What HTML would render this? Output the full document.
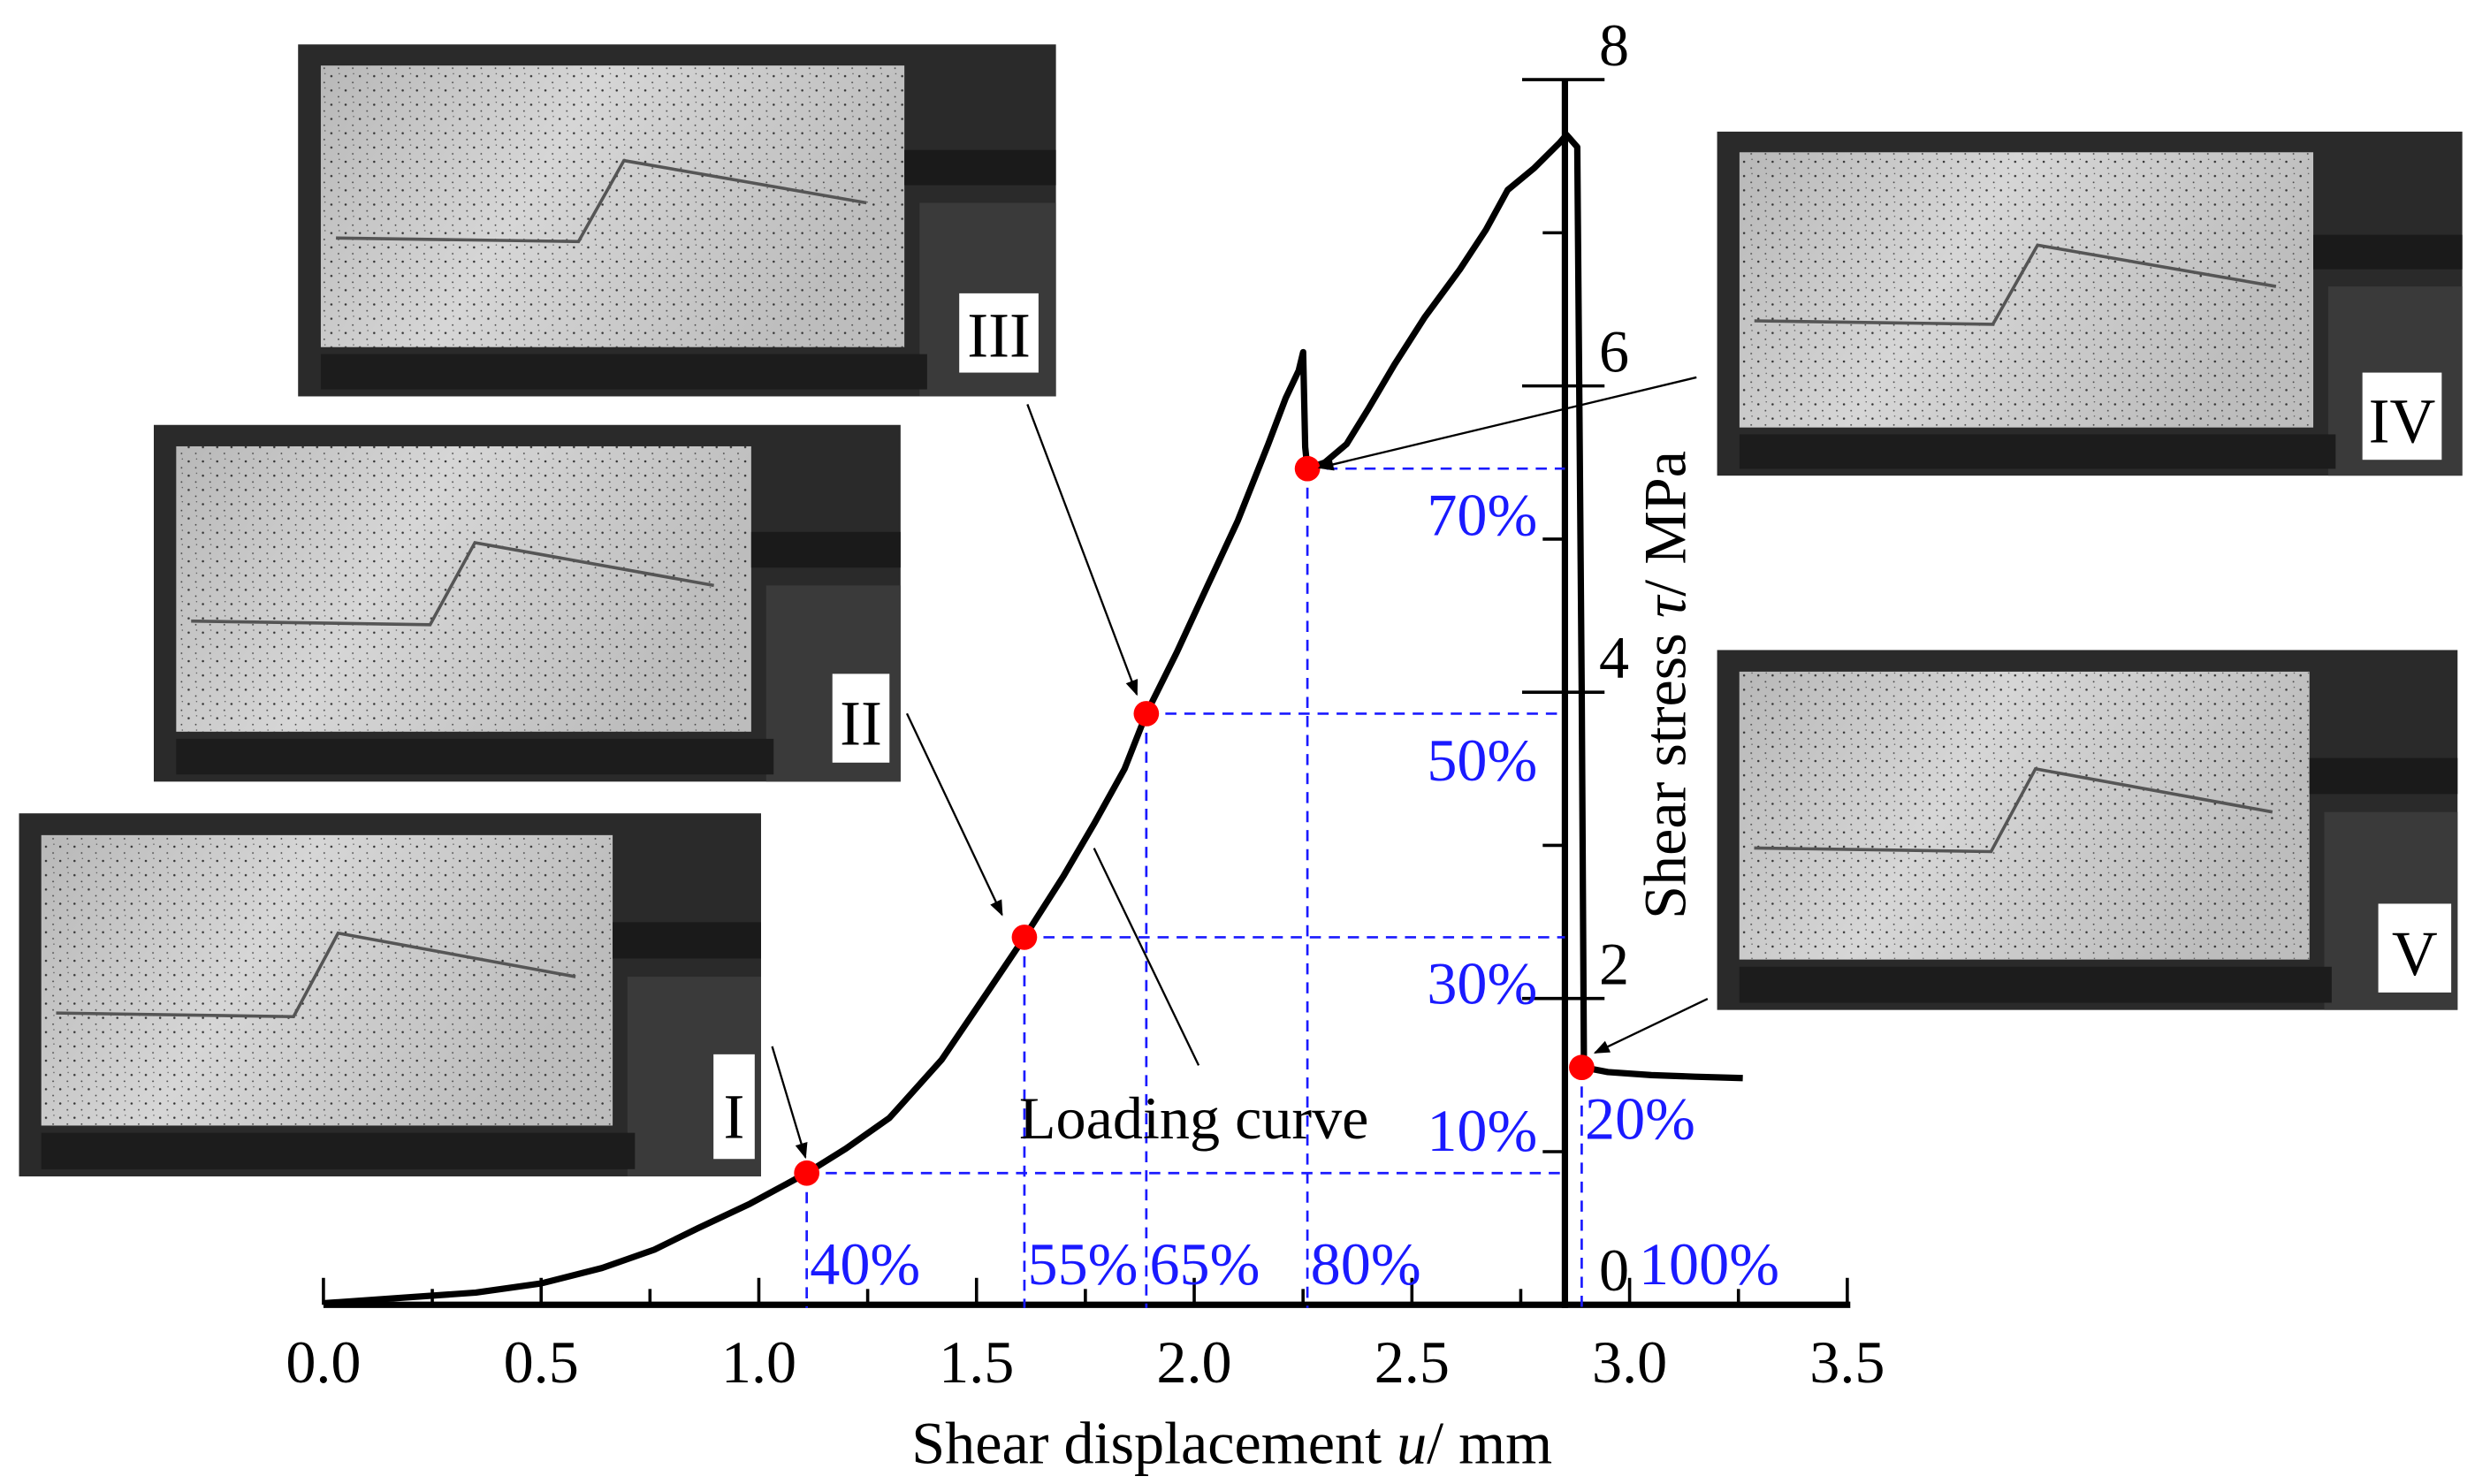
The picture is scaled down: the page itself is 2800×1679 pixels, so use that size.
<!DOCTYPE html>
<html><head><meta charset="utf-8"><style>
html,body{margin:0;padding:0;background:#fff;}
svg{display:block;}
text{font-family:"Liberation Serif",serif;}
</style></head><body>
<svg id="chart" width="2800" height="1679" viewBox="0 0 1561 936" xmlns="http://www.w3.org/2000/svg">
<defs>
<linearGradient id="conc" x1="0" y1="0" x2="1" y2="0.3">
<stop offset="0" stop-color="#b8b8b8"/><stop offset="0.45" stop-color="#d6d6d6"/><stop offset="1" stop-color="#bdbdbd"/>
</linearGradient>
<pattern id="dots" width="9" height="9" patternUnits="userSpaceOnUse">
<circle cx="2" cy="3" r="0.7" fill="#333"/><circle cx="6.5" cy="7" r="0.5" fill="#444"/><circle cx="7" cy="1.5" r="0.4" fill="#555"/>
</pattern>
<marker id="arr" markerWidth="10" markerHeight="8" refX="9" refY="4" orient="auto" markerUnits="userSpaceOnUse"><path d="M0,0 L10,4 L0,8 z" fill="#000"/></marker>
</defs>
<g id="photos"></g>
<g id="axes"></g>
<g id="guides"></g>
<g id="series"></g>
<g id="labels"></g>
</svg>
<script>
const uVals=[0,0.15,0.35,0.5,0.64,0.76,0.86,0.98,1.11,1.2,1.3,1.42,1.52,1.61,1.7,1.77,1.84,1.89,1.96,2.03,2.1,2.17,2.21,2.24,2.25,2.255,2.26,2.3,2.35,2.4,2.46,2.53,2.61,2.67,2.72,2.78,2.84,2.855,2.88,2.89,2.895,2.95,3.05,3.15,3.26];
const tauVals=[0.01,0.04,0.08,0.14,0.24,0.36,0.5,0.66,0.86,1.02,1.22,1.6,2.02,2.4,2.8,3.14,3.5,3.86,4.26,4.69,5.12,5.62,5.92,6.1,6.22,5.6,5.46,5.5,5.62,5.85,6.14,6.45,6.76,7.02,7.28,7.42,7.59,7.64,7.56,4.0,1.55,1.52,1.5,1.49,1.48];
const ptU=[1.11,1.61,1.89,2.26,2.89];
const ptTau=[0.86,2.4,3.86,5.46,1.55];
const xPctLabels=["40%","55%","65%","80%","100%"];
const yPctLabels=["10%","30%","50%","70%","20%"];
const xTicks=[0,0.5,1,1.5,2,2.5,3,3.5];
const yTicks=[0,2,4,6,8];
const NS="http://www.w3.org/2000/svg";
const xs=u=>204+u*274.6, ys=t=>823-t*96.6, YAX=987;
function mk(tag,attrs,parent,txt){const e=document.createElementNS(NS,tag);for(const k in attrs)e.setAttribute(k,attrs[k]);if(txt!==undefined)e.textContent=txt;parent.appendChild(e);return e;}
const P=document.getElementById('photos'),A=document.getElementById('axes'),G=document.getElementById('guides'),S=document.getElementById('series'),L=document.getElementById('labels');
const photos=[[12,513,468,229,"I",450,665,26,66],[97,268,471,225,"II",525,425,36,56],[188,28,478,222,"III",605,185,50,50],[1083,83,470,217,"IV",1490,235,50,55],[1083,410,467,227,"V",1500,570,46,56]];
photos.forEach((p,i)=>{const [x,y,w,h,lab,bx,by,bw,bh]=p;
const g=mk('g',{},P);


mk('rect',{x:x,y:y,width:w,height:h,fill:'#2a2a2a'},g);
mk('rect',{x:x+w*0.03,y:y+h*0.06,width:w*0.77,height:h*0.8,fill:'url(#conc)'},g);
mk('rect',{x:x+w*0.03,y:y+h*0.06,width:w*0.77,height:h*0.8,fill:'url(#dots)'},g);
mk('rect',{x:x+w*0.8,y:y+h*0.3,width:w*0.2,height:h*0.1,fill:'#1a1a1a'},g);
mk('rect',{x:x+w*0.82,y:y+h*0.45,width:w*0.18,height:h*0.55,fill:'#3a3a3a'},g);
mk('rect',{x:x+w*0.03,y:y+h*0.88,width:w*0.8,height:h*0.1,fill:'#1c1c1c'},g);
mk('path',{d:`M${x+w*0.05},${y+h*0.55} L${x+w*0.37},${y+h*0.56} L${x+w*0.43},${y+h*0.33} L${x+w*0.75},${y+h*0.45}`,stroke:'#555',fill:'none','stroke-width':2},g);
mk('rect',{x:bx,y:by,width:bw,height:bh,fill:'#fff'},g);
const t=mk('text',{x:bx+bw/2,y:by+bh*0.8,'font-size':40,'text-anchor':'middle'},g,lab);


});
const xa=mk('line',{x1:204,y1:823,x2:1167,y2:823,stroke:'#000','stroke-width':4},A);


for(let k=0;k<=14;k++){const u=k*0.25;mk('line',{x1:xs(u),y1:823,x2:xs(u),y2:823-(k%2?10:17),stroke:'#000','stroke-width':2},A);}
xTicks.forEach(v=>{const t=mk('text',{x:xs(v),y:872,'font-size':38,'text-anchor':'middle'},A,v.toFixed(1));

});
const ya=mk('line',{x1:YAX,y1:825,x2:YAX,y2:50,stroke:'#000','stroke-width':4},A);


for(let k=0;k<=8;k++){if(k%2==0){mk('line',{x1:YAX-27,y1:ys(k),x2:YAX+25,y2:ys(k),stroke:'#000','stroke-width':2},A);}else{mk('line',{x1:YAX-14,y1:ys(k),x2:YAX,y2:ys(k),stroke:'#000','stroke-width':2},A);}}
yTicks.forEach(v=>{const t=mk('text',{x:1018,y:ys(v)-9,'font-size':38,'text-anchor':'middle'},A,String(v));

});
let t1=mk('text',{x:777,y:923,'font-size':38,'text-anchor':'middle'},A);
t1.innerHTML='Shear displacement <tspan font-style="italic">u</tspan>/ mm';


let t2=mk('text',{x:0,y:0,'font-size':38,'text-anchor':'middle',transform:'translate(1063,432) rotate(-90)'},A);
t2.innerHTML='Shear stress <tspan font-style="italic">τ</tspan>/ MPa';


ptU.forEach((u,i)=>{const x=xs(u),y=ys(ptTau[i]);
if(i<4){const h=mk('line',{x1:x,y1:y,x2:YAX,y2:y,stroke:'#1a1aff','stroke-width':1.5,'stroke-dasharray':'7,5'},G);

}
const v=mk('line',{x1:x,y1:y,x2:x,y2:825,stroke:'#1a1aff','stroke-width':1.5,'stroke-dasharray':'7,5'},G);


const tx=mk('text',{x:x+(i==4?36:2),y:810,'font-size':38,fill:'#1a1aff'},G,xPctLabels[i]);


const ty=mk('text',{x:i==4?x+2:900,y:i==4?y+45:(i==0?y-14:y+42),'font-size':38,fill:'#1a1aff'},G,yPctLabels[i]);


});
let d='';uVals.forEach((u,i)=>{d+=(i?'L':'M')+xs(u).toFixed(1)+','+ys(tauVals[i]).toFixed(1)+' ';});
const c=mk('path',{d:d,stroke:'#000','stroke-width':4,fill:'none','stroke-linejoin':'round'},S);


ptU.forEach((u,i)=>{const p=mk('circle',{cx:xs(u),cy:ys(ptTau[i]),r:8,fill:'#ff0000'},S);

});
const arrows=[[487,660,508,730],[572,450,632,577],[648,255,717,438],[1070,238,832,295],[1077,630,1006,664]];
arrows.forEach(a=>{const l=mk('line',{x1:a[0],y1:a[1],x2:a[2],y2:a[3],stroke:'#000','stroke-width':1.3,'marker-end':'url(#arr)'},L);

});
const lp=mk('line',{x1:690,y1:535,x2:756,y2:672,stroke:'#000','stroke-width':1.3},L);


const lt=mk('text',{x:753,y:718,'font-size':38,'text-anchor':'middle'},L,'Loading curve');


</script>
</body></html>
